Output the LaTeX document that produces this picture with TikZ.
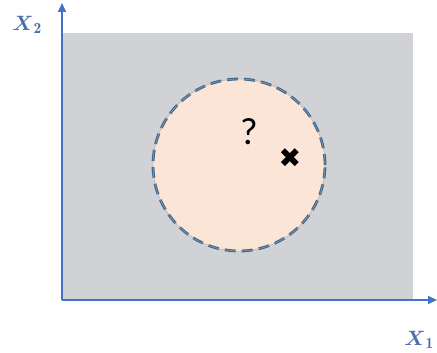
\documentclass[tikz,border=0pt]{standalone}
\usepackage{amsmath,amsbsy}
\usepackage{fontspec}
\newfontfamily\symfont{DejaVu Sans}
\newfontfamily\qfont{Carlito}
\usetikzlibrary{arrows.meta}

\definecolor{axisblue}{HTML}{4472C4}
\definecolor{labelblue}{HTML}{4A6EA8}
\definecolor{bggray}{HTML}{D0D2D6}
\definecolor{peach}{HTML}{FBE5D6}
\definecolor{ringblue}{HTML}{41698F}

\tikzset{
  axis/.style={draw=axisblue,line width=1.8pt,-{Triangle[length=9pt,width=8pt]}},
  axislabel/.style={text=labelblue,font=\fontsize{22}{24}\selectfont},
  region/.style={circle,fill=peach,draw=ringblue,line width=2.8pt,
    dash pattern=on 11pt off 6pt,minimum size=172pt,inner sep=0pt}
}

\begin{document}
\begin{tikzpicture}[x=1pt,y=-1pt]
  \useasboundingbox (0,0) rectangle (437,353);
  % feature space
  \fill[bggray] (62,33) rectangle (413,300);
  \coordinate (O) at (62,300);
  \coordinate (xend) at (437,300);
  \coordinate (yend) at (62,3);
  \draw[axis] (O) -- (xend);
  \draw[axis] (O) -- (yend);
  \node[axislabel] (xlab) at (419,340) {$\boldsymbol{X}_{\mathbf{1}}$};
  \node[axislabel] (ylab) at (27,25) {$\boldsymbol{X}_{\mathbf{2}}$};
  % neighbourhood of the query point
  \node[region] (nbhd) at (239,165) {};
  \draw[gray!70,line width=0.4pt] (nbhd.center) circle (86pt);
  \node[font=\qfont\fontsize{38}{40}\selectfont] (query) at (249,132) {?};
  \node[font=\symfont\fontsize{27}{29}\selectfont,inner sep=0pt] (point) at (290,158) {✖};
\end{tikzpicture}
\end{document}
